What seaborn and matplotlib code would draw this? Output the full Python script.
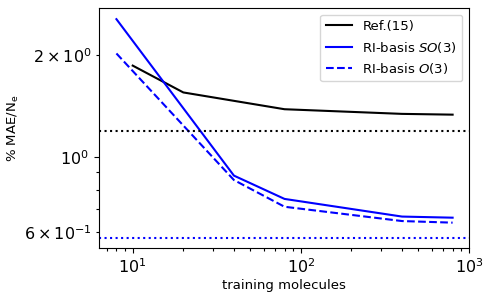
import pandas as pd
import matplotlib
matplotlib.use("Agg")
import matplotlib.pyplot as plt
import seaborn as sns

# Data
ref_n = [10, 20, 80, 400, 800]
ref_mae = [1.86, 1.55, 1.383, 1.34, 1.333]

ri_n = [8, 40, 80, 400, 800]
so3_mae = [2.55, 0.881, 0.752, 0.667, 0.662]
o3_mae = [2.02, 0.855, 0.713, 0.647, 0.640]

ref_limit = 1.196
ri_limit = 0.577

df_ref = pd.DataFrame({"n": ref_n, "mae": ref_mae})
df_so3 = pd.DataFrame({"n": ri_n, "mae": so3_mae})
df_o3 = pd.DataFrame({"n": ri_n, "mae": o3_mae})

fig = plt.figure(figsize=(4.91, 2.98), dpi=100)
ax = fig.add_axes([0.2016, 0.168, 0.7534, 0.805])

sns.lineplot(data=df_ref, x="n", y="mae", color="black", lw=1.5,
             label="Ref.(15)", ax=ax)
sns.lineplot(data=df_so3, x="n", y="mae", color="#0000ff", lw=1.5,
             label="RI-basis $SO$(3)", ax=ax)
sns.lineplot(data=df_o3, x="n", y="mae", color="#0000ff", lw=1.5,
             linestyle="--", label="RI-basis $O$(3)", ax=ax)

ax.axhline(ref_limit, color="black", linestyle=":", lw=1.5)
ax.axhline(ri_limit, color="#0000ff", linestyle=":", lw=1.5)

ax.set_xscale("log")
ax.set_yscale("log")
ax.set_xlim(6.3, 1000)
ax.set_ylim(0.539, 2.75)

ax.set_xlabel("training molecules", fontsize=9.5, labelpad=2)
ax.set_ylabel("% MAE/N$_\\mathrm{e}$", fontsize=9.5)
ax.yaxis.set_label_coords(-0.212, 0.5)
ax.tick_params(axis="both", which="both", labelsize=11.5, width=0.8)
ax.tick_params(axis="both", which="major", length=3.5)
ax.tick_params(axis="both", which="minor", length=2)

ax.legend(loc="upper right", fontsize=9.5, frameon=True)

fig.savefig("out.png", dpi=100)
